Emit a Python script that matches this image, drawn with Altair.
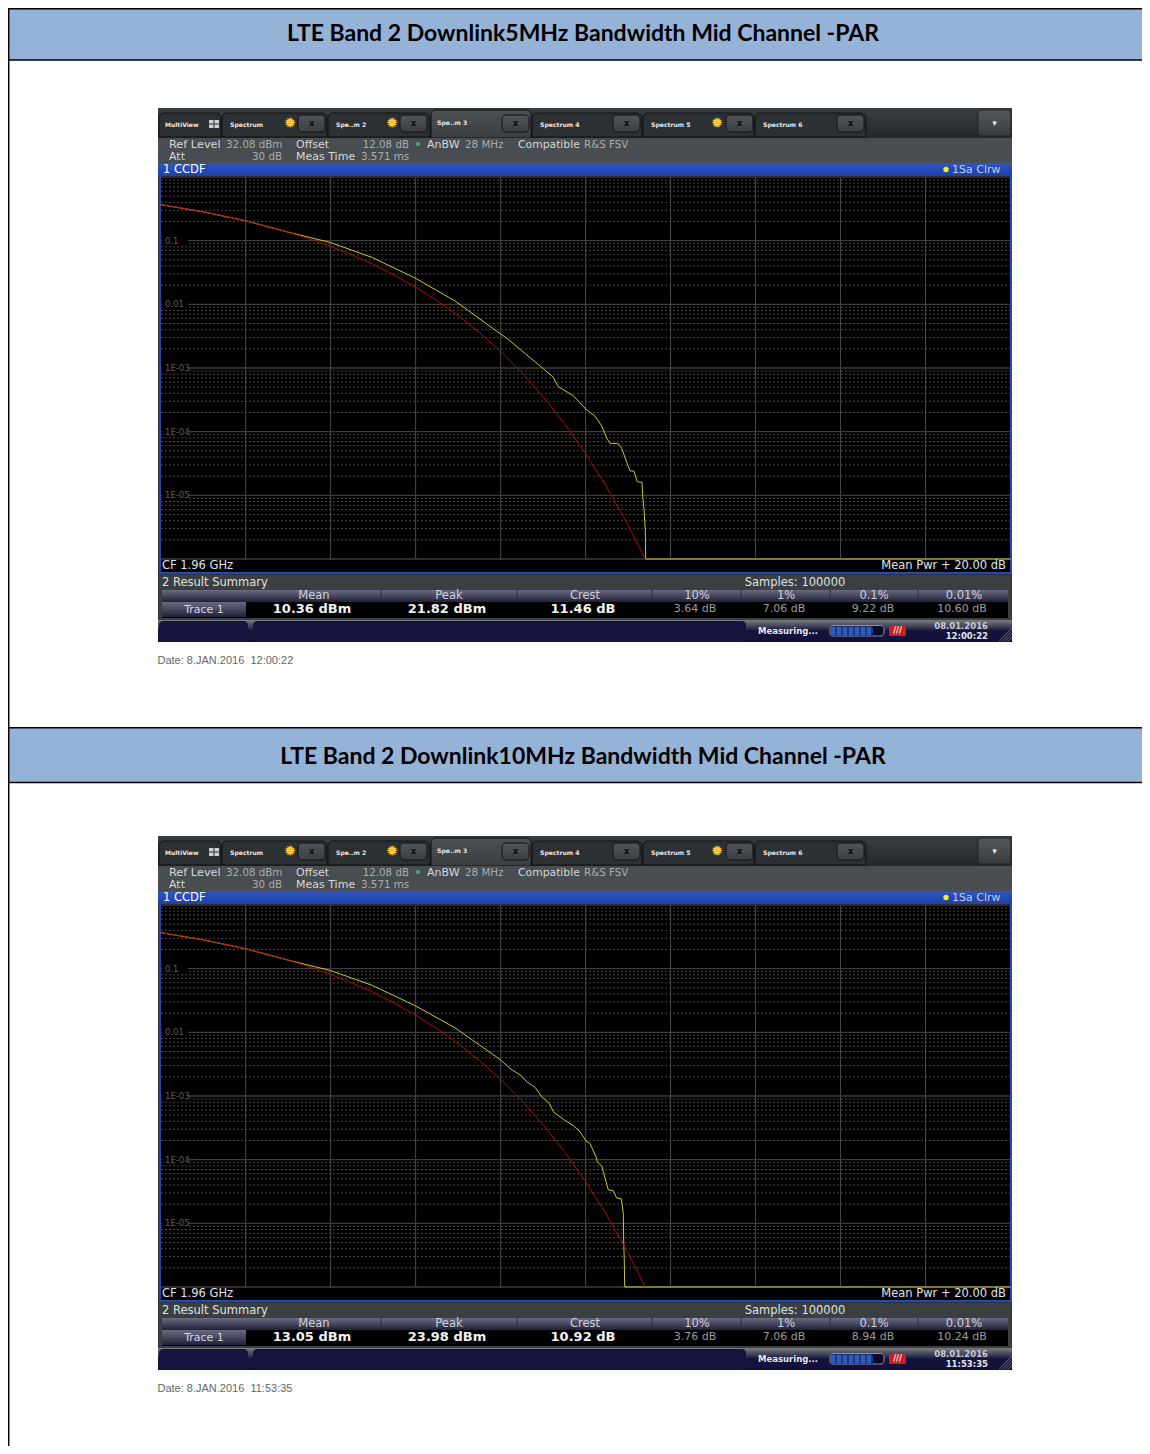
import altair as alt
import pandas as pd

TITLES = ["LTE Band 2 Downlink5MHz Bandwidth Mid Channel -PAR",
          "LTE Band 2 Downlink10MHz Bandwidth Mid Channel -PAR"]
DATES = ["Date: 8.JAN.2016\u00a0\u00a012:00:22", "Date: 8.JAN.2016\u00a0\u00a011:53:35"]
CLOCKS = ["12:00:22", "11:53:35"]
DAY = "08.01.2016"
SUMMARY_HEAD = ["Mean", "Peak", "Crest", "10%", "1%", "0.1%", "0.01%"]
SUMMARY_1 = ["10.36 dBm", "21.82 dBm", "11.46 dB", "3.64 dB", "7.06 dB", "9.22 dB", "10.60 dB"]
SUMMARY_2 = ["13.05 dBm", "23.98 dBm", "10.92 dB", "3.76 dB", "7.06 dB", "8.94 dB", "10.24 dB"]
TABS = ["Spectrum", "Spe..m 2", "Spe..m 3", "Spectrum 4", "Spectrum 5", "Spectrum 6"]

# x: dB above mean power. exp: log10 of the CCDF probability
ref_db = [0, 0.5, 1, 1.5, 2, 2.5, 3, 3.5, 4, 4.5, 5, 5.5, 6, 6.5, 7, 7.5, 8, 8.5, 9, 9.5, 10, 10.5, 11, 11.4]
ref_exp = [-0.434, -0.487, -0.547, -0.614, -0.688, -0.772, -0.866, -0.972, -1.091, -1.224, -1.373, -1.541,
           -1.729, -1.94, -2.177, -2.442, -2.74, -3.074, -3.45, -3.871, -4.343, -4.873, -5.468, -5.994]
y1_db = [0, 1, 2, 3, 4.0, 4.97, 5.985, 6.93, 7.868, 8.18, 8.496, 8.967, 9.24, 9.357, 9.71, 10.026, 10.22,
         10.38, 10.5, 10.575, 10.77, 10.85, 11.005, 11.045, 11.14, 11.217, 11.327, 11.344, 11.375, 11.405,
         11.414, 20]
y1_exp = [-0.434, -0.547, -0.688, -0.866, -1.03, -1.262, -1.586, -1.948, -2.403, -2.549, -2.728, -2.989,
          -3.146, -3.294, -3.435, -3.659, -3.754, -3.911, -4.104, -4.183, -4.189, -4.261, -4.55, -4.613,
          -4.622, -4.786, -4.795, -5.005, -5.23, -5.544, -6, -6]
y2_db = [0, 1, 2, 3, 4.0, 4.97, 5.985, 6.93, 7.868, 8.0, 8.22, 8.496, 8.61, 8.81, 8.967, 9.146, 9.24, 9.475,
         9.71, 9.868, 10.01, 10.1, 10.245, 10.276, 10.38, 10.535, 10.65, 10.73, 10.84, 10.887, 10.896, 10.91,
         10.92, 20]
y2_exp = [-0.434, -0.547, -0.688, -0.866, -1.03, -1.26, -1.58, -1.93, -2.37, -2.434, -2.565, -2.686, -2.775,
          -2.863, -3.01, -3.115, -3.246, -3.366, -3.466, -3.56, -3.707, -3.743, -3.953, -4.036, -4.099, -4.476,
          -4.487, -4.602, -4.613, -4.842, -5.262, -5.576, -6, -6]
div_db = [2, 4, 6, 8, 10, 12, 14, 16, 18]
decades = [1, 0.1, 0.01, 1e-3, 1e-4, 1e-5, 1e-6]
decade_labels = {0.1: "0.1", 0.01: "0.01", 1e-3: "1E-03", 1e-4: "1E-04", 1e-5: "1E-05"}

one = pd.DataFrame({"a": [0]})
UI = "DejaVu Sans"
layers = []


def rect(x0, y0, x1, y1, fill, **kw):
    layers.append(alt.Chart(one).mark_rect(fill=fill, **kw).encode(
        x=alt.value(x0 - 8), x2=alt.value(x1 - 8), y=alt.value(y0 - 8), y2=alt.value(y1 - 8)))


def grad(*cols):
    n = len(cols) - 1
    return {"gradient": "linear", "x1": 0, "x2": 0, "y1": 0, "y2": 1,
            "stops": [{"offset": i / n, "color": c} for i, c in enumerate(cols)]}


def text(x, y, s, size=11, color="#a9adaf", align="left", weight="normal", font=UI):
    layers.append(alt.Chart(one).mark_text(text=s, fontSize=size, color=color, align=align, baseline="middle",
                                           fontWeight=weight, font=font).encode(
        x=alt.value(x - 8), y=alt.value(y - 8 + (0.8 if font == UI else 0))))


def segment(x0, y0, x1, y1, color, width=1.0):
    layers.append(alt.Chart(one).mark_rule(color=color, strokeWidth=width).encode(
        x=alt.value(x0 - 8), x2=alt.value(x1 - 8), y=alt.value(y0 - 8), y2=alt.value(y1 - 8)))


def panel(d, head_top, head_bottom, title_y, title, date, clock, summary, yel_db, yel_exp):
    # page header band
    rect(8, head_top, 1142, head_bottom, "#95B3D7")
    segment(8, head_top + 0.7, 1142, head_top + 0.7, "#000000", 1.5)
    segment(8, head_bottom, 1142, head_bottom, "#000000", 1.5)
    text(583, title_y, title, 23, "#000000", "center", "bold", "Lato")

    # instrument frame
    rect(158, d + 108, 1012, d + 642, "#2d3133")
    rect(158, d + 108, 1012, d + 138, grad("#3a3e40", "#24282a"))
    tabs = [(222, 327, 298), (328, 430, 400), (431, 531, 502), (532, 642, 613), (643, 754, 726), (755, 866, 837)]
    rect(159, d + 113, 221, d + 137, "#2c3032", stroke="#111111", strokeWidth=1, cornerRadiusTopLeft=5, cornerRadiusTopRight=5)
    text(165, d + 124, "MultiView", 6, "#e8e8e8", "left", "bold")
    for xa, xb in [(209, 213.5), (214.5, 219)]:
        rect(xa, d + 120, xb, d + 123.5, "#cfd2d4")
        rect(xa, d + 124.5, xb, d + 128, "#cfd2d4")
    for i, (a, b, bx) in enumerate(tabs):
        active = i == 2
        rect(a, d + (110 if active else 113), b, d + 138 if active else d + 137,
             grad("#4c5154", "#3a3e40") if active else "#2c3032",
             stroke="#111111", strokeWidth=1, cornerRadiusTopLeft=5, cornerRadiusTopRight=5)
        text(a + 8 if not active else a + 6, d + (122.5 if active else 124), TABS[i], 6.1, "#e8e8e8", "left", "bold")
        rect(bx, d + 115, bx + 27, d + 132, grad("#50555a", "#3a3e40"), stroke="#111111", strokeWidth=1, cornerRadius=4)
        text(bx + 13.5, d + 123, "x", 8, "#0c0c0c", "center", "bold")
    for sx in (290, 392, 717):
        layers.append(alt.Chart(one).mark_text(text="✹", fontSize=15, color="#f4c63e", align="center", baseline="middle", font=UI).encode(
            x=alt.value(sx - 8), y=alt.value(d + 123 - 8)))
    rect(978, d + 110, 1011, d + 136, grad("#55595c", "#383c3e"), stroke="#222222", strokeWidth=1, cornerRadius=3)
    text(994.5, d + 122, "▾", 9, "#e8e8e8", "center", "bold")

    # info rows
    rect(158, d + 138, 1012, d + 163, "#474d50")
    hi = "#d5d8da"
    text(169, d + 144, "Ref Level", 11.3, hi)
    text(226, d + 144, "32.08 dBm", 10.3)
    text(296, d + 144, "Offset", 11, hi)
    text(409, d + 144, "12.08 dB", 10.3, align="right")
    text(427, d + 144, "AnBW", 11, hi)
    text(465, d + 144, "28 MHz", 10.3)
    text(518, d + 144, "Compatible", 10.8, hi)
    text(584, d + 144, "R&S FSV", 10.3)
    text(169, d + 156, "Att", 11, hi)
    text(282, d + 156, "30 dB", 10.3, align="right")
    text(296, d + 156, "Meas Time", 11, hi)
    text(361, d + 156, "3.571 ms", 10.3)
    layers.append(alt.Chart(one).mark_point(shape="circle", filled=True, size=18, color="#3fb56a", opacity=1).encode(
        x=alt.value(418 - 8), y=alt.value(d + 144 - 8)))

    # blue title bar and plot
    rect(158, d + 163, 1012, d + 176, grad("#2f55c2", "#1d3fa8"))
    text(163, d + 169, "1 CCDF", 11.5, "#ffffff")
    layers.append(alt.Chart(one).mark_point(shape="circle", filled=True, size=28, color="#f4f01e", opacity=1).encode(
        x=alt.value(946 - 8), y=alt.value(d + 169.5 - 8)))
    text(952, d + 169, "1Sa Clrw", 11, "#c6cede")
    rect(159, d + 176, 1012, d + 574, "#2549b4")
    rect(161, d + 176, 1010, d + 572, "#000000")

    top, bottom = d + 177, d + 559
    xs = alt.Scale(domain=[0, 20], range=[160.7 - 8, 1010.5 - 8], nice=False, zero=False)
    ys = alt.Scale(type="log", domain=[1e-6, 1], range=[bottom - 8, top - 8], nice=False)
    xenc = alt.X("db:Q", scale=xs, axis=None)
    yenc = alt.Y("p:Q", scale=ys, axis=None)

    minor = [m * dec for dec in decades[:-1] for m in (0.9, 0.8, 0.7, 0.6, 0.5, 0.4, 0.3, 0.2)]
    layers.append(alt.Chart(pd.DataFrame({"p": minor})).mark_rule(color="#484848", strokeWidth=1, strokeDash=[2, 2]).encode(
        y=yenc, x=alt.value(161 - 8), x2=alt.value(1010 - 8)))
    layers.append(alt.Chart(pd.DataFrame({"db": div_db})).mark_rule(color="#4a4a4a", strokeWidth=1).encode(
        x=xenc, y=alt.value(top - 8), y2=alt.value(bottom - 8)))
    layers.append(alt.Chart(pd.DataFrame({"p": decades})).mark_rule(color="#3c3c3c", strokeWidth=1.4).encode(
        y=yenc, x=alt.value(161 - 8), x2=alt.value(1010 - 8)))
    labels = pd.DataFrame({"p": list(decade_labels), "t": list(decade_labels.values())})
    layers.append(alt.Chart(labels).mark_rect(fill="#000000", height=9, width=26).encode(
        y=yenc, x=alt.value(175 - 8)))
    layers.append(alt.Chart(labels).mark_text(align="left", baseline="middle", fontSize=8.5, color="#5e5e5e", font=UI).encode(
        y=yenc, x=alt.value(165 - 8), text="t:N"))

    red = pd.DataFrame({"db": ref_db, "p": [10.0 ** e for e in ref_exp]})
    yel = pd.DataFrame({"db": yel_db, "p": [10.0 ** e for e in yel_exp]})
    layers.append(alt.Chart(yel).mark_line(color="#c8c822", strokeWidth=1, interpolate="linear").encode(x=xenc, y=yenc))
    layers.append(alt.Chart(red).mark_line(color="#b80808", strokeWidth=1, opacity=0.95).encode(x=xenc, y=yenc))

    text(162, d + 565.5, "CF 1.96 GHz", 11.5, "#e2e2e2")
    text(1006, d + 565.5, "Mean Pwr + 20.00 dB", 11.5, "#e2e2e2", "right")

    # result summary
    rect(159, d + 575, 1011, d + 620, "#3b3f41")
    text(162, d + 582.5, "2 Result Summary", 11.5, "#dfe1e2")
    text(795, d + 582.5, "Samples: 100000", 11.5, "#dfe1e2", "center")
    rect(162, d + 590, 1008, d + 602, grad("#6a6a80", "#20203a"))
    rect(162, d + 602, 1008, d + 618, "#000000")
    rect(162, d + 602, 246, d + 617, grad("#6a6a80", "#20203a"))
    text(204, d + 609, "Trace 1", 11, "#d8d8de", "center")
    for x in (381, 517, 652, 741, 830, 918):
        segment(x, d + 590, x, d + 602, "#2a2a44", 1)
    heads = [314, 449, 585, 697, 786, 874, 964]
    vals = [312, 447, 583, 695, 784, 873, 962]
    for i in range(7):
        text(heads[i], d + 595.5, SUMMARY_HEAD[i], 11.5, "#d0d0d8", "center")
        bold = i < 3
        text(vals[i], d + 608.5, summary[i], 13 if bold else 11, "#f2f2f2" if bold else "#9a9a9a", "center",
             "bold" if bold else "normal")

    # status bar
    rect(158, d + 620, 1012, d + 642, grad("#7a7e80", "#14143c", "#10103a"))
    rect(159, d + 621, 248, d + 642, "#14143e", cornerRadius=4)
    rect(253, d + 621, 746, d + 642, "#14143e", cornerRadius=4)
    text(788, d + 630.5, "Measuring...", 8.5, "#e6e6ea", "center", "bold")
    rect(830, d + 625.5, 884, d + 636, "#0a0a28", stroke="#8b92b0", strokeWidth=1, cornerRadius=3)
    rect(831, d + 626.5, 873, d + 635, "#2c5cc0", cornerRadius=2)
    for i in range(1, 9):
        x = 830 + i * 6
        segment(x, d + 626, x, d + 636, "#0a0a28", 0.8)
    rect(889, d + 626, 906, d + 636, "#c81e28", cornerRadius=1)
    text(897.5, d + 630.5, "///", 8, "#f4f4f4", "center", "bold")
    text(988, d + 625.5, DAY, 8.5, "#c8c8d4", "right", "bold")
    text(988, d + 635.5, clock, 8.5, "#e6e6ee", "right", "bold")
    for k in (4, 7, 10, 13):
        segment(1012 - k, d + 641.5, 1011.5, d + 641.5 - k, "#7f8488", 0.8)

    text(157.5, d + 660.5, date, 11, "#666666", font="Liberation Sans")


panel(0, 8, 60, 33.5, TITLES[0], DATES[0], CLOCKS[0], SUMMARY_1, y1_db, y1_exp)
panel(728, 727, 782.5, 756.5, TITLES[1], DATES[1], CLOCKS[1], SUMMARY_2, y2_db, y2_exp)
segment(8.7, 8, 8.7, 1454, "#000000", 1.5)

chart = alt.layer(*layers).resolve_scale(x="independent", y="independent").properties(
    width=1134, height=1438, padding=0, background="#ffffff",
    autosize=alt.AutoSizeParams(type="none"),
).configure_view(stroke=None)

chart.save("out.html", embed_options={"renderer": "svg", "actions": False})
